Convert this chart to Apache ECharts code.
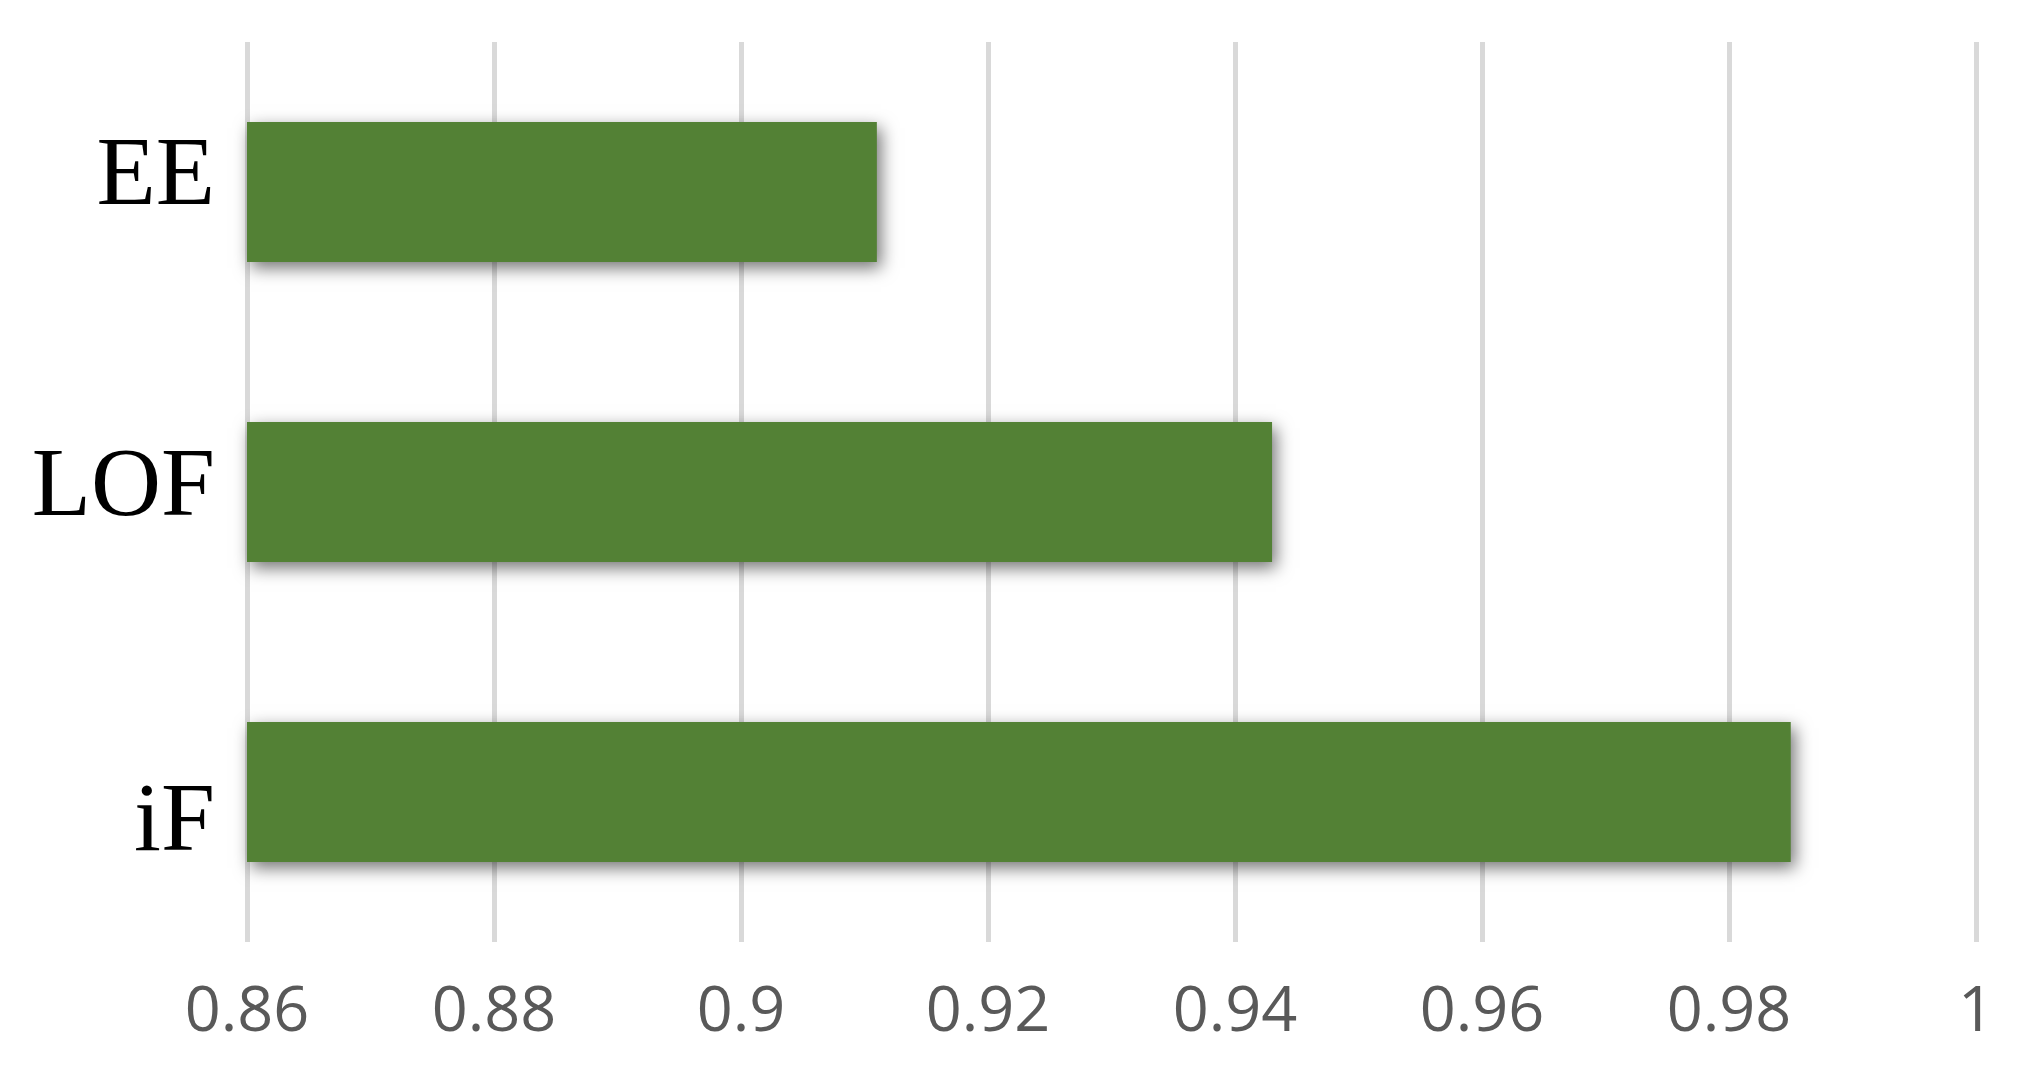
<!DOCTYPE html>
<html>
<head>
<meta charset="utf-8">
<title>Detector comparison</title>
<script src="https://cdn.jsdelivr.net/npm/echarts@6/dist/echarts.min.js"></script>
<style>
	html, body { margin: 0; padding: 0; background: #fff; }
	#chart { width: 2019px; height: 1069px; }
</style>
</head>
<body>
<div id="chart"></div>
<script>
// categories, top to bottom
var methods = ['EE', 'LOF', 'iF'];
// scores
var scores = [0.911, 0.943, 0.985];
// x axis range
var axisMin = 0.86;
var axisMax = 1;
var axisStep = 0.02;

// tiny stand-in for $.extend, no jQuery on this page
var $ = {
	extend: function(a, b) {
		for (var k in b) { a[k] = b[k]; }
		return a;
	}
};

function initChart(id) {
	var chart = echarts.init(document.getElementById(id));
	// the labels in the original are not quite centred on their bars
	var labelStyle = {
		fontFamily: 'Liberation Serif',
		fontSize: 97,
		color: '#000000'
	};
	var rich = {
		up: $.extend({ padding: [0, 0, 26, 0] }, labelStyle),
		mid: $.extend({ padding: [0, 0, 4, 0] }, labelStyle),
		down: $.extend({ padding: [66, 0, 0, 0] }, labelStyle)
	};
	var shift = { 'EE': 'up', 'LOF': 'mid', 'iF': 'down' };

	var option = {
		animation: false,
		backgroundColor: '#ffffff',
		grid: {
			left: 247,
			right: 43,
			top: 42,
			bottom: 127
		},
		xAxis: {
			type: 'value',
			min: axisMin,
			max: axisMax,
			interval: axisStep,
			axisLine: { show: false },
			axisTick: { show: false },
			splitLine: {
				show: true,
				lineStyle: { color: '#d9d9d9', width: 5 }
			},
			axisLabel: {
				color: '#595959',
				fontFamily: 'Open Sans',
				fontSize: 63,
				margin: 40,
				showMinLabel: true,
				showMaxLabel: true
			}
		},
		yAxis: {
			type: 'category',
			inverse: true,
			data: methods,
			axisLine: { show: false },
			axisTick: { show: false },
			splitLine: { show: false },
			axisLabel: {
				margin: 32,
				formatter: function(v) {
					return '{' + (shift[v] || 'mid') + '|' + v + '}';
				},
				rich: rich
			}
		},
		series: [{
			type: 'bar',
			data: scores,
			barWidth: 140,
			itemStyle: {
				color: '#538135',
				shadowColor: 'rgba(0,0,0,0.55)',
				shadowBlur: 16,
				shadowOffsetX: 4,
				shadowOffsetY: 6
			}
		}]
	};
	chart.setOption(option);
	return chart;
}

initChart('chart');
</script>
</body>
</html>
